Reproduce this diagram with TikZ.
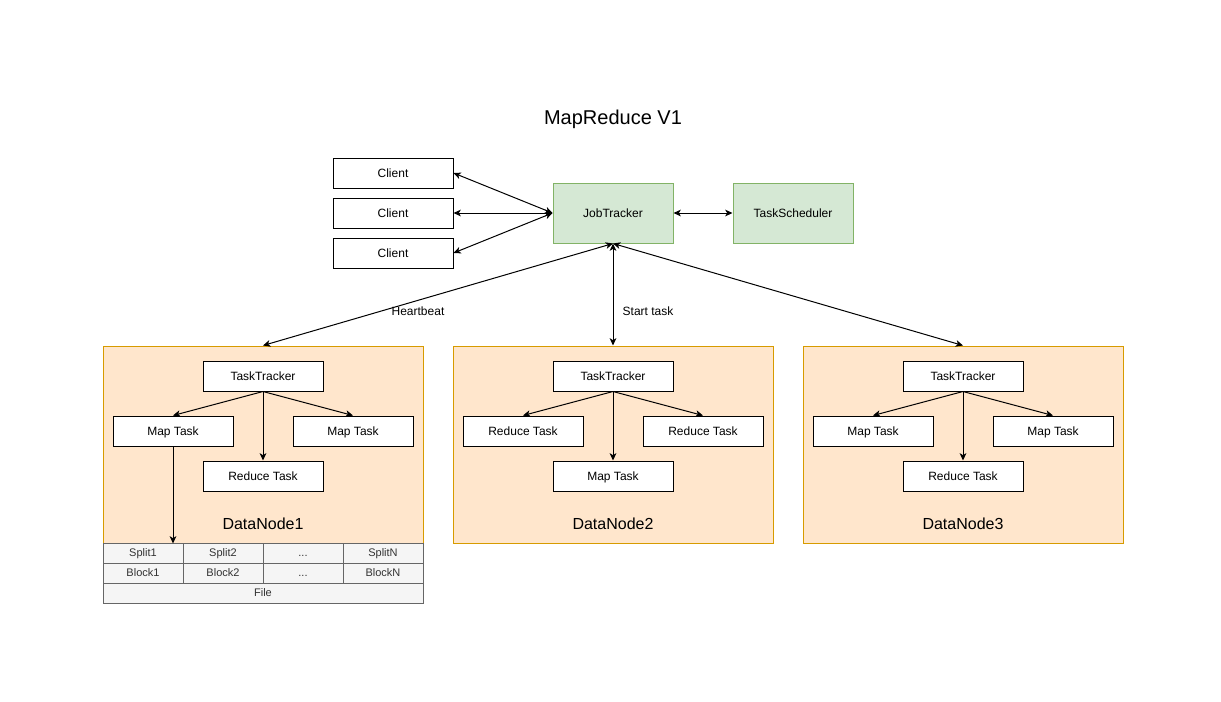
\documentclass[tikz,border=0pt]{standalone}
\usepackage{fontspec}
\setmainfont{Liberation Sans}
\usetikzlibrary{calc,positioning,arrows.meta}

\definecolor{jtfill}{HTML}{D5E8D4}
\definecolor{jtline}{HTML}{82B366}
\definecolor{dnfill}{HTML}{FFE6CC}
\definecolor{dnline}{HTML}{D79B00}
\definecolor{cellfill}{HTML}{F5F5F5}
\definecolor{cellline}{HTML}{666666}
\definecolor{celltext}{HTML}{333333}

\begin{document}
\begin{tikzpicture}[x=0.75pt,y=-0.75pt,line width=0.75pt,>={Stealth[length=5.5pt,width=5pt,inset=1.5pt]},
  box/.style={draw,fill=white,minimum width=90pt,minimum height=22.5pt,inner sep=0pt,text height=8pt,text depth=1.8pt,font=\fontsize{9}{11}\selectfont},
  master/.style={box,fill=jtfill,draw=jtline,minimum height=45pt},
  dn/.style={draw=dnline,fill=dnfill,minimum width=240pt,minimum height=147.75pt,inner sep=0pt},
  dnname/.style={font=\fontsize{12}{14}\selectfont},
  cell/.style={draw=cellline,fill=cellfill,text=celltext,minimum width=60pt,minimum height=15pt,inner sep=0pt,text height=7.5pt,text depth=1.6pt,font=\fontsize{8.25}{10}\selectfont},
  link/.style={<->,shorten <=0pt,shorten >=0pt}]
  \useasboundingbox (0,0) rectangle (1221,701);

  \node[font=\fontsize{15}{18}\selectfont] (title) at (613,119) {MapReduce V1};

  % master side
  \node[box] (c1) at (393,173) {Client};
  \node[box] (c2) at (393,213) {Client};
  \node[box] (c3) at (393,253) {Client};
  \node[master] (jt) at (613,213) {JobTracker};
  \node[master] (ts) at (793,213) {TaskScheduler};

  % data nodes
  \node[dn] (dn1) at (263,444.5) {};
  \node[dn] (dn2) at (613,444.5) {};
  \node[dn] (dn3) at (963,444.5) {};
  \node[dnname] (dn1name) at (263,524) {DataNode1};
  \node[dnname] (dn2name) at (613,524) {DataNode2};
  \node[dnname] (dn3name) at (963,524) {DataNode3};

  \node[box] (tt1) at (263,376) {TaskTracker};
  \node[box] (mt1a) at (173,431) {Map Task};
  \node[box] (mt1b) at (353,431) {Map Task};
  \node[box] (rt1) at (263,476) {Reduce Task};

  \node[box] (tt2) at (613,376) {TaskTracker};
  \node[box] (rt2a) at (523,431) {Reduce Task};
  \node[box] (rt2b) at (703,431) {Reduce Task};
  \node[box] (mt2) at (613,476) {Map Task};

  \node[box] (tt3) at (963,376) {TaskTracker};
  \node[box] (mt3a) at (873,431) {Map Task};
  \node[box] (mt3b) at (1053,431) {Map Task};
  \node[box] (rt3) at (963,476) {Reduce Task};

  % file table
  \node[cell] (s1) at (143,553) {Split1};
  \node[cell] (s2) at (223,553) {Split2};
  \node[cell] (s3) at (303,553) {...};
  \node[cell] (sn) at (383,553) {SplitN};
  \node[cell] (b1) at (143,573) {Block1};
  \node[cell] (b2) at (223,573) {Block2};
  \node[cell] (b3) at (303,573) {...};
  \node[cell] (bn) at (383,573) {BlockN};
  \node[cell,minimum width=240pt] (file) at (263,593) {File};

  % links
  \draw[link] (c1.east) -- (jt.west);
  \draw[link] (c2.east) -- (jt.west);
  \draw[link] (c3.east) -- (jt.west);
  \draw[link] (jt.east) -- (ts.west);
  \draw[link] (jt.south) -- (dn1.north);
  \draw[link] (jt.south) -- (dn2.north);
  \draw[link] (jt.south) -- (dn3.north);
  \node[font=\fontsize{9}{11}\selectfont] (hb) at (418,311) {Heartbeat};
  \node[font=\fontsize{9}{11}\selectfont] (st) at (648,311) {Start task};

  \draw[->] (tt1.south) -- (mt1a.north);
  \draw[->] (tt1.south) -- (mt1b.north);
  \draw[->] (tt1.south) -- (rt1.north);
  \draw[->] (tt2.south) -- (rt2a.north);
  \draw[->] (tt2.south) -- (rt2b.north);
  \draw[->] (tt2.south) -- (mt2.north);
  \draw[->] (tt3.south) -- (mt3a.north);
  \draw[->] (tt3.south) -- (mt3b.north);
  \draw[->] (tt3.south) -- (rt3.north);
  \draw[->] (mt1a.south) -- (mt1a.south |- dn1.south);
\end{tikzpicture}
\end{document}
